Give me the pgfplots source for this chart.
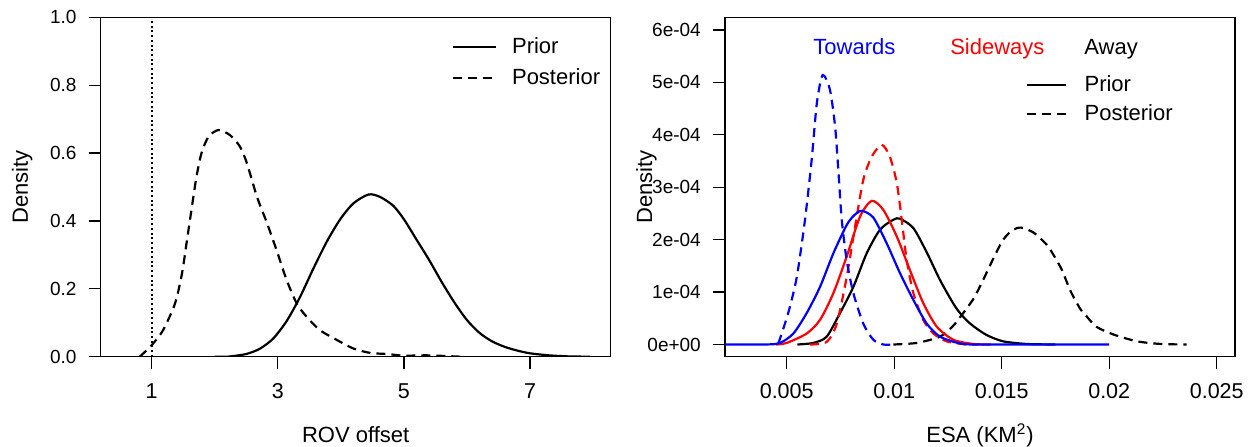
\documentclass[border=0pt]{standalone}
\usepackage{fontspec}
\setmainfont{Liberation Sans}
\usepackage{pgfplots}
\pgfplotsset{compat=1.18}
\definecolor{rblue}{RGB}{0,0,255}
\definecolor{rred}{RGB}{255,0,0}
\pgfplotsset{
  rstyle/.style={
    scale only axis, width=255pt, height=169.7pt,
    axis line style={line width=0.6pt, black},
    tick align=outside, xtick pos=bottom, ytick pos=left,
    major tick length=6pt,
    tick style={line width=0.6pt, black},
    scaled x ticks=false, scaled y ticks=false,
    xticklabel style={font=\fontsize{10.75}{12}\selectfont, inner sep=0pt, yshift=-7.1pt},
    yticklabel style={font=\fontsize{9.5}{11}\selectfont, inner sep=0pt, xshift=-5.9pt},
    xlabel style={font=\fontsize{11}{13}\selectfont, at={(axis description cs:0.5,-0.254)}, anchor=base, inner sep=0pt},
    ylabel style={font=\fontsize{11}{13}\selectfont, at={(axis description cs:-0.143,0.5)}, anchor=base, rotate=0, inner sep=0pt},
    legend cell align=left,
    every axis plot/.append style={line width=1.1pt, smooth, tension=0.45},
  },
  pdash/.style={dash pattern=on 4.5pt off 3pt},
}
\begin{document}
\begin{tikzpicture}
\path[use as bounding box] (0,0) rectangle (626.5pt,223pt);
% ---------------- Left panel ----------------
\begin{axis}[rstyle,
  at={(50.35pt,44.65pt)}, anchor=south west,
  xmin=0.191, xmax=8.28, ymin=0, ymax=1,
  xtick={1,3,5,7}, xticklabels={1,3,5,7},
  ytick={0,0.2,0.4,0.6,0.8,1.0}, yticklabels={0.0,0.2,0.4,0.6,0.8,1.0},
  xlabel={ROV offset}, ylabel={Density},
  legend style={at={(axis description cs:0.687,0.9417)}, anchor=north west,
    draw=none, fill=none, inner sep=0pt, row sep=6pt, column sep=7.3pt,
    font=\fontsize{11}{13}\selectfont, nodes={inner sep=0pt}},
  legend image code/.code={\draw[#1] (0pt,0pt) -- (21.9pt,0pt);},
]
\addlegendimage{black, line width=1.1pt}
\addlegendentry{Prior}
\addlegendimage{black, line width=1.1pt, pdash}
\addlegendentry{Posterior}
\addplot[black, line width=1.1pt, dash pattern=on 1pt off 1.35pt, sharp plot] coordinates {(1,0) (1,1)};
\addplot[black] coordinates {
(2.0,0) (2.2,0) (2.5,0.008) (2.72,0.024) (2.93,0.054) (3.14,0.105) (3.35,0.175)
(3.57,0.262) (3.78,0.340) (3.99,0.405) (4.20,0.452) (4.44,0.478) (4.62,0.471)
(4.83,0.445) (5.0,0.405) (5.2,0.345) (5.4,0.285) (5.6,0.22) (5.8,0.16)
(6.0,0.108) (6.2,0.070) (6.4,0.045) (6.6,0.029) (6.8,0.018) (7.0,0.010)
(7.3,0.004) (7.6,0.001) (7.95,0)};
\addplot[black, pdash] coordinates {
(0.81,0) (1.0,0.034) (1.18,0.078) (1.37,0.157) (1.48,0.245) (1.56,0.344) (1.63,0.432)
(1.71,0.53) (1.79,0.60) (1.90,0.648) (2.06,0.668) (2.24,0.653) (2.40,0.619) (2.51,0.57)
(2.67,0.471) (2.83,0.393) (2.98,0.314) (3.14,0.226) (3.30,0.157) (3.46,0.117)
(3.67,0.078) (3.94,0.049) (4.20,0.024) (4.47,0.011) (4.73,0.008) (5.0,0.003)
(5.37,0.004) (5.9,0)};
\end{axis}
% ---------------- Right panel ----------------
\begin{axis}[rstyle,
  at={(362.5pt,44.65pt)}, anchor=south west,
  xmin=0.00213, xmax=0.02585, ymin=-0.233e-4, ymax=6.242e-4,
  xtick={0.005,0.01,0.015,0.02,0.025}, xticklabels={0.005,0.01,0.015,0.02,0.025},
  ytick={0,1e-4,2e-4,3e-4,4e-4,5e-4,6e-4},
  yticklabels={0e+00,1e-04,2e-04,3e-04,4e-04,5e-04,6e-04},
  xlabel={ESA (KM\textsuperscript{2})}, ylabel={Density},
  legend style={at={(axis description cs:0.5896,0.8288)}, anchor=north west,
    draw=none, fill=none, inner sep=0pt, row sep=5pt, column sep=9pt,
    font=\fontsize{11}{13}\selectfont, nodes={inner sep=0pt}},
  legend image code/.code={\draw[#1] (0pt,0pt) -- (19.15pt,0pt);},
]
\addlegendimage{black, line width=1.1pt}
\addlegendentry{Prior}
\addlegendimage{black, line width=1.1pt, pdash}
\addlegendentry{Posterior}
\node[anchor=base west, inner sep=0pt, font=\fontsize{11}{13}\selectfont, text=rblue] at (axis description cs:0.1725,0.891) {Towards};
\node[anchor=base west, inner sep=0pt, font=\fontsize{11}{13}\selectfont, text=rred] at (axis description cs:0.441,0.891) {Sideways};
\node[anchor=base west, inner sep=0pt, font=\fontsize{11}{13}\selectfont, text=black] at (axis description cs:0.704,0.891) {Away};
% Away
\addplot[black] coordinates {
(0.0055,0) (0.00624,0.03e-4) (0.00686,0.15e-4) (0.00748,0.6e-4) (0.0081,1.10e-4)
(0.00872,1.74e-4) (0.00934,2.19e-4) (0.00996,2.38e-4) (0.01027,2.40e-4) (0.01089,2.22e-4)
(0.01151,1.76e-4) (0.01213,1.23e-4) (0.01275,0.78e-4) (0.01306,0.60e-4) (0.01337,0.46e-4)
(0.01368,0.35e-4) (0.0143,0.18e-4) (0.01507,0.06e-4) (0.01616,0.01e-4) (0.0175,0)};
\addplot[black, pdash] coordinates {
(0.00996,0) (0.01105,0.03e-4) (0.01213,0.15e-4) (0.01275,0.36e-4) (0.01321,0.60e-4)
(0.0137,0.88e-4) (0.0141,1.2e-4) (0.01461,1.64e-4) (0.01507,2.0e-4) (0.0155,2.18e-4)
(0.0159,2.23e-4) (0.0165,2.13e-4) (0.0171,1.9e-4) (0.01745,1.68e-4) (0.0178,1.42e-4)
(0.0182,1.02e-4) (0.01865,0.68e-4) (0.0189,0.56e-4) (0.0194,0.34e-4) (0.0202,0.19e-4)
(0.0213,0.06e-4) (0.0224,0.01e-4) (0.0236,0)};
% Sideways
\addplot[rred] coordinates {
(0.0045,0) (0.005,0.03e-4) (0.00593,0.21e-4) (0.00655,0.47e-4) (0.00717,0.98e-4)
(0.00779,1.68e-4) (0.00841,2.44e-4) (0.00895,2.74e-4) (0.00949,2.57e-4) (0.01012,2.06e-4)
(0.01073,1.42e-4) (0.01135,0.79e-4) (0.01198,0.34e-4) (0.01275,0.09e-4) (0.01368,0.01e-4)
(0.0145,0)};
\addplot[rred, pdash] coordinates {
(0.00608,0) (0.00686,0.05e-4) (0.00733,0.40e-4) (0.00779,1.29e-4) (0.00818,2.25e-4)
(0.00856,3.14e-4) (0.00895,3.58e-4) (0.00942,3.81e-4) (0.0098,3.58e-4) (0.01012,3.08e-4)
(0.01035,2.38e-4) (0.01058,1.61e-4) (0.01089,0.98e-4) (0.01135,0.47e-4) (0.01182,0.21e-4)
(0.01244,0.06e-4) (0.01337,0) (0.0139,0)};
% Towards
\addplot[rblue] coordinates {
(0.0021,0) (0.0040,0) (0.00469,0.03e-4) (0.00531,0.21e-4) (0.00593,0.6e-4) (0.00655,1.10e-4)
(0.00717,1.74e-4) (0.00779,2.28e-4) (0.00815,2.47e-4) (0.00849,2.55e-4) (0.00903,2.42e-4)
(0.00965,1.93e-4) (0.01027,1.36e-4) (0.01089,0.85e-4) (0.01151,0.40e-4) (0.01213,0.15e-4)
(0.01306,0.02e-4) (0.014,0) (0.02,0)};
\addplot[rblue, pdash] coordinates {
(0.00461,0.02e-4) (0.00507,0.6e-4) (0.00547,1.29e-4) (0.00585,2.38e-4) (0.00616,3.52e-4)
(0.0064,4.6e-4) (0.00667,5.14e-4) (0.00701,4.86e-4) (0.00725,4.16e-4) (0.0074,3.33e-4)
(0.00756,2.38e-4) (0.00779,1.61e-4) (0.0081,0.98e-4) (0.00856,0.40e-4) (0.00903,0.09e-4)
(0.00949,0) (0.0099,0)};
\end{axis}
\end{tikzpicture}
\end{document}
